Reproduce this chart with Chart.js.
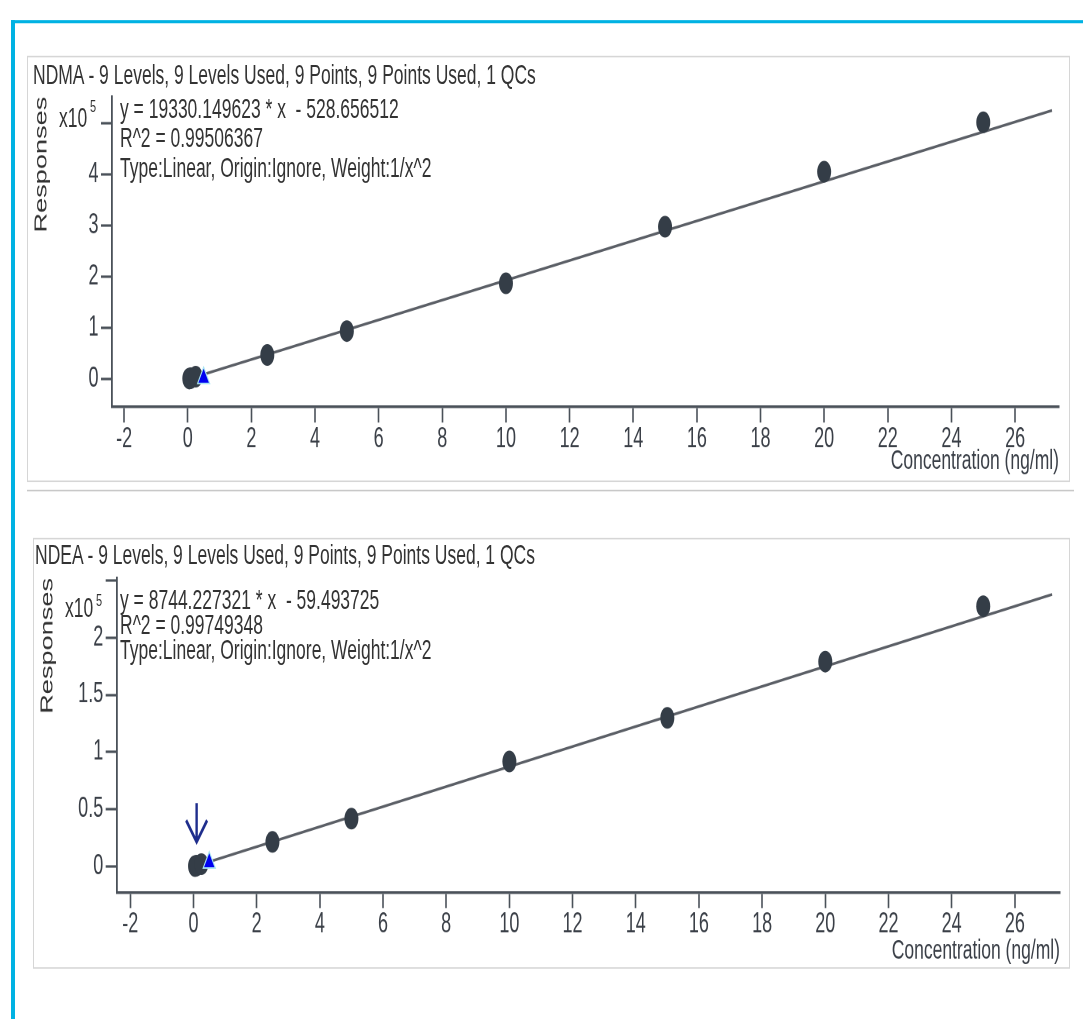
<!DOCTYPE html>
<html>
<head>
<meta charset="utf-8">
<title>Calibration curves</title>
<script src="https://cdn.jsdelivr.net/npm/chart.js@4.4.1/dist/chart.umd.min.js"></script>
<style>
  html, body { margin: 0; padding: 0; background: #fff; overflow: hidden; }
  body { width: 1083px; height: 1019px; position: relative; }
  /* the source screenshot is stretched vertically, so the whole page is laid out flat and scaled */
  #page { position: absolute; left: 0; top: 0; width: 1083px; height: 658px;
          transform: scaleY(1.55); transform-origin: 0 0;
          font-family: 'Liberation Sans', Arial, sans-serif; color: #333; }
  .frame-top { position: absolute; left: 11px; top: 12.9px; right: 0; height: 2.4px; background: #00b2e3; }
  .frame-left { position: absolute; left: 11px; top: 12.9px; width: 4px; bottom: 0; background: #00b2e3; }
  .panel { position: absolute; border: 1px solid #d6d6d6; box-sizing: border-box; background: #fff; }
  .sep { position: absolute; left: 27px; top: 315.5px; width: 1047px; height: 1.4px; background: #c8c8c8; }
  .box { position: absolute; }
  .txt { position: absolute; font-size: 17.5px; line-height: 20px; white-space: nowrap; z-index: 2; }
  .sup { position: absolute; font-size: 11px; line-height: 13px; z-index: 2; }
</style>
</head>
<body>
<div id="page">
  <div class="frame-top"></div>
  <div class="frame-left"></div>

  <div class="panel" style="left:27px; top:35.5px; width:1043px; height:275.5px;"></div>
  <div class="sep"></div>
  <div class="panel" style="left:33px; top:346.5px; width:1037px; height:278px;"></div>

  <!-- NDMA -->
  <div class="txt" style="left:33px; top:38.4px;">NDMA - 9 Levels, 9 Levels Used, 9 Points, 9 Points Used, 1 QCs</div>
  <div class="txt" style="left:120px; top:60.4px;">y = 19330.149623 * x &nbsp;- 528.656512</div>
  <div class="txt" style="left:120px; top:79.2px;">R^2 = 0.99506367</div>
  <div class="txt" style="left:120px; top:97.5px;">Type:Linear, Origin:Ignore, Weight:1/x^2</div>
  <div class="txt" style="left:59px; top:65.8px;">x10</div>
  <div class="sup" style="left:90px; top:62.2px;">5</div>
  <div class="box" style="left:28px; top:38px;"><canvas id="ndmaChart" width="1039" height="270"></canvas></div>

  <!-- NDEA -->
  <div class="txt" style="left:35px; top:348.1px;">NDEA - 9 Levels, 9 Levels Used, 9 Points, 9 Points Used, 1 QCs</div>
  <div class="txt" style="left:120px; top:377.1px;">y = 8744.227321 * x &nbsp;- 59.493725</div>
  <div class="txt" style="left:120px; top:393.2px;">R^2 = 0.99749348</div>
  <div class="txt" style="left:120px; top:409.4px;">Type:Linear, Origin:Ignore, Weight:1/x^2</div>
  <div class="txt" style="left:65px; top:382.3px;">x10</div>
  <div class="sup" style="left:96px; top:380.6px;">5</div>
  <div class="box" style="left:34px; top:352px;"><canvas id="ndeaChart" width="1034" height="272"></canvas></div>
</div>

<script>
// calibration levels (ng/ml)
const concLevels = [0.05, 0.1, 0.25, 2.5, 5, 10, 15, 20, 25];
const ndmaResponses = [1000, 1800, 4500, 46900, 93700, 186900, 297500, 404900, 501400];
const ndeaResponses = [500, 900, 2200, 21600, 41900, 91800, 129900, 179000, 227400];

// QC sample
const qcConc = [0.5];
const ndmaQc = [2000];
const ndeaQc = [3500];

// fitted lines (end points of the regression shown in the legend text)
const ndmaFitX = [0.05, 27.16];
const ndmaFitY = [438, 524470];
const ndeaFitX = [0.05, 27.18];
const ndeaFitY = [378, 237600];

// axes
const xTicks = [-2, 0, 2, 4, 6, 8, 10, 12, 14, 16, 18, 20, 22, 24, 26];
const ndmaYTicks = [0, 100000, 200000, 300000, 400000, 500000];
const ndmaYLabels = ['0', '1', '2', '3', '4', ''];
const ndeaYTicks = [0, 50000, 100000, 150000, 200000, 250000];
const ndeaYLabels = ['0', '0.5', '1', '1.5', '2', ''];

// marker arrow on the NDEA plot
const arrowConc = 0.1;
const arrowTop = 55400;
const arrowHead = 40400;
const arrowTip = 21600;

Chart.defaults.font.family = "'Liberation Sans', Arial, sans-serif";
Chart.defaults.color = '#3a3f47';

const axisColor = '#4a5159';

const arrowPlugin = {
  id: 'arrowMark',
  afterDatasetsDraw(chart) {
    const { ctx, scales: { x, y } } = chart;
    const px = x.getPixelForValue(arrowConc);
    const yTop = y.getPixelForValue(arrowTop);
    const yHead = y.getPixelForValue(arrowHead);
    const yTip = y.getPixelForValue(arrowTip);
    ctx.save();
    ctx.strokeStyle = '#1e2d8c';
    ctx.lineWidth = 2.4;
    ctx.lineJoin = 'miter';
    ctx.beginPath();
    ctx.moveTo(px, yTop);
    ctx.lineTo(px, yTip);
    ctx.moveTo(px - 10.5, yHead);
    ctx.lineTo(px, yTip);
    ctx.lineTo(px + 10.5, yHead);
    ctx.stroke();
    ctx.restore();
  }
};

function makeChart(id, cfg) {
  const pts = (xs, ys) => xs.map((x, i) => ({ x: x, y: ys[i] }));
  return new Chart(document.getElementById(id), {
    type: 'scatter',
    data: {
      datasets: [
        {
          data: pts(qcConc, cfg.qc),
          pointStyle: 'triangle',
          pointRadius: 7,
          pointBackgroundColor: '#0000f0',
          pointBorderColor: '#a8e4f2',
          pointBorderWidth: 1,
          order: 0
        },
        {
          data: pts(concLevels, cfg.responses),
          pointRadius: 7,
          pointBackgroundColor: '#343d47',
          pointBorderWidth: 0,
          order: 1
        },
        {
          type: 'line',
          data: pts(cfg.fitX, cfg.fitY),
          borderColor: '#5b5f66',
          borderWidth: 1.8,
          pointRadius: 0,
          fill: false,
          order: 2
        }
      ]
    },
    options: {
      responsive: false,
      animation: false,
      devicePixelRatio: 2,
      layout: { padding: { top: cfg.padTop, left: 0, right: 0, bottom: 0 } },
      plugins: { legend: { display: false }, tooltip: { enabled: false } },
      scales: {
        x: {
          type: 'linear',
          min: cfg.xMin,
          max: cfg.xMax,
          afterBuildTicks: s => { s.ticks = xTicks.map(v => ({ value: v })); },
          afterFit: s => { s.height = cfg.xHeight; },
          ticks: { font: { size: 18 }, padding: 0, maxRotation: 0, autoSkip: false,
                   callback: (v, i) => String(xTicks[i]) },
          grid: { drawOnChartArea: false, tickLength: 10, tickColor: axisColor, tickWidth: 1.6 },
          border: { color: axisColor, width: 1.8 },
          title: { display: true, text: 'Concentration (ng/ml)', align: 'end',
                   font: { size: 17.5 }, padding: 0, color: '#3a3f47' }
        },
        y: {
          type: 'linear',
          min: cfg.yMin,
          max: cfg.yMax,
          afterBuildTicks: s => { s.ticks = cfg.yTicks.map(v => ({ value: v })); },
          afterFit: s => { s.width = cfg.yWidth; },
          ticks: { font: { size: 18 }, padding: 2.5, autoSkip: false,
                   callback: (v, i) => cfg.yLabels[i] },
          grid: { drawOnChartArea: false, tickLength: 11, tickColor: axisColor, tickWidth: 1.6 },
          border: { color: axisColor, width: 1.8 },
          title: { display: true, text: 'Responses', align: 'end',
                   font: { size: 17.5 }, padding: { top: cfg.titlePad, bottom: 0 }, color: '#333' }
        }
      }
    },
    plugins: cfg.plugins || []
  });
}

makeChart('ndmaChart', {
  responses: ndmaResponses, qc: ndmaQc, fitX: ndmaFitX, fitY: ndmaFitY,
  yTicks: ndmaYTicks, yLabels: ndmaYLabels,
  xMin: -2.38, xMax: 27.38, yMin: -54700, yMax: 551400,
  padTop: 24.4, xHeight: 45.4, yWidth: 84, titlePad: 3
});

makeChart('ndeaChart', {
  responses: ndeaResponses, qc: ndeaQc, fitX: ndeaFitX, fitY: ndeaFitY,
  yTicks: ndeaYTicks, yLabels: ndeaYLabels,
  xMin: -2.43, xMax: 27.43, yMin: -22700, yMax: 252000,
  padTop: 20.9, xHeight: 48.1, yWidth: 82.7, titlePad: 3,
  plugins: [arrowPlugin]
});
</script>
</body>
</html>
